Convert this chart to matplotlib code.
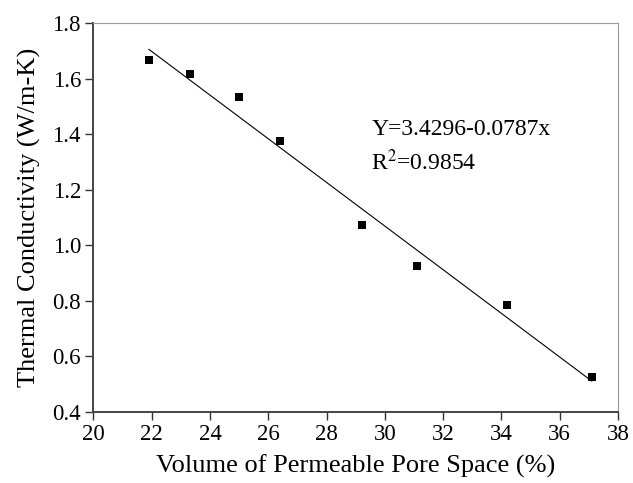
import numpy as np
import matplotlib
matplotlib.use("Agg")
import matplotlib.pyplot as plt

# data
pore_space = [21.9, 23.3, 25.0, 26.4, 29.2, 31.1, 34.2, 37.1]
conductivity = [1.667, 1.617, 1.534, 1.377, 1.071, 0.924, 0.784, 0.523]
intercept, slope = 3.4296, -0.0787
xticks = [20, 22, 24, 26, 28, 30, 32, 34, 36, 38]
yticks = [0.4, 0.6, 0.8, 1.0, 1.2, 1.4, 1.6, 1.8]

plt.rcParams['font.family'] = ['Liberation Serif', 'DejaVu Serif']
plt.rcParams['mathtext.fontset'] = 'stix'

fig = plt.figure(figsize=(6.33, 4.83), dpi=100)
ax = fig.add_axes([0.1477, 0.148, 0.8286, 0.8038])

# fitted line between first and last points
xf = np.array([pore_space[0], pore_space[-1]])
ax.plot(xf, intercept + slope * xf, color='black', lw=0.8)
ax.plot(pore_space, conductivity, 's', color='black', ms=6.3, mew=0)

ax.set_xlim(20, 38)
ax.set_ylim(0.4, 1.8)
ax.set_xticks(xticks)
ax.set_yticks(yticks)
ax.set_yticklabels(['%.1f' % v for v in yticks])

for side in ['left', 'bottom']:
    ax.spines[side].set_color('#444444')
    ax.spines[side].set_linewidth(1.4)
for side in ['top', 'right']:
    ax.spines[side].set_color('#999999')
    ax.spines[side].set_linewidth(0.8)

ax.tick_params(direction='out', length=6, width=1.0, color='#333333',
               labelsize=16.5, pad=3)

ax.set_xlabel('Volume of Permeable Pore Space (%)', fontsize=19, labelpad=7)
ax.set_ylabel('Thermal Conductivity (W/m-K)', fontsize=19, labelpad=8)

ax.text(0.530, 0.712, 'Y=3.4296-0.0787x', transform=ax.transAxes,
        fontsize=17, va='baseline')
ax.text(0.530, 0.622, 'R$^2$=0.9854', transform=ax.transAxes,
        fontsize=17, va='baseline')

fig.savefig('out.png', dpi=100)
